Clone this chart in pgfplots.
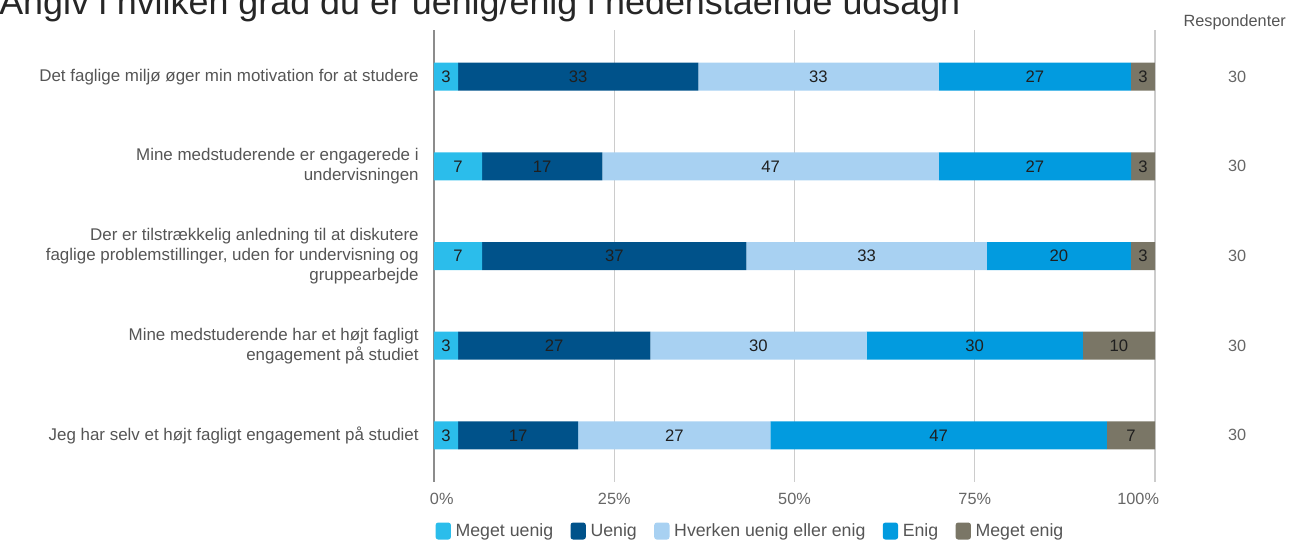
\documentclass[border=0pt]{standalone}
\usepackage{fontspec}
\setmainfont{Liberation Sans}
\usepackage{pgfplots}
\usepackage{pgfplotstable}
\pgfplotsset{compat=1.18}
\definecolor{cMU}{HTML}{2BBDEB}
\definecolor{cU}{HTML}{00528A}
\definecolor{cH}{HTML}{A8D1F2}
\definecolor{cE}{HTML}{029BDF}
\definecolor{cME}{HTML}{7A7666}
\definecolor{txtgray}{HTML}{555555}
\definecolor{ticgray}{HTML}{666666}
\definecolor{gridgray}{HTML}{CCCCCC}

\pgfplotstableread{
row mu u h e me
0 3.33 33.33 33.33 26.67 3.33
1 6.67 16.67 46.67 26.67 3.33
2 6.67 36.67 33.33 20.00 3.33
3 3.33 26.67 30.00 30.00 10.00
4 3.33 16.67 26.67 46.67 6.67
}\data

\pgfplotsset{
  seg/.style={draw=none, fill=#1},
  lbl/.style={
    nodes near coords={\pgfmathprintnumber[fixed,precision=0,assume math mode=true]{\pgfplotspointmeta}},
    point meta=explicit,
    every node near coord/.append style={anchor=center, font=\fontsize{12.5}{14}\selectfont, text=black!88},
  },
}

\begin{document}
\begin{tikzpicture}
\useasboundingbox (0pt,0pt) rectangle (967.5pt,-405pt);
\node[anchor=base west, inner sep=0, font=\fontsize{26.9}{27}\selectfont, text=black!85] at (-0.75pt,-10.5pt) {Angiv i hvilken grad du er uenig/enig i nedenstående udsagn};
\node[anchor=center, inner sep=0, font=\fontsize{12.2}{14}\selectfont, text=txtgray] at (926pt,-17pt) {Respondenter};
\begin{axis}[
  at={(325.5pt,-22.5pt)}, anchor=north west,
  scale only axis, width=540.75pt, height=339pt,
  xbar stacked, bar width=21pt,
  xmin=0, xmax=100, ymin=-0.52, ymax=4.52, y dir=reverse,
  clip=false,
  axis line style={draw=none},
  major tick length=0pt,
  xmajorgrids, grid style={gridgray, line width=0.8pt},
  xtick={0,25,50,75,100},
  xticklabels={\makebox[0pt][l]{\hspace{-3pt}0\%},25\%,50\%,75\%,\makebox[0pt][r]{100\%\hspace{-3pt}}},
  xticklabel style={text=ticgray, font=\fontsize{12.2}{14}\selectfont, yshift=-5pt},
  ytick={0,1,2,3,4},
  yticklabels={
    Det faglige miljø øger min motivation for at studere,
    {Mine medstuderende er engagerede i\\undervisningen},
    {Der er tilstrækkelig anledning til at diskutere\\faglige problemstillinger, uden for undervisning og\\gruppearbejde},
    {Mine medstuderende har et højt fagligt\\engagement på studiet},
    Jeg har selv et højt fagligt engagement på studiet},
  yticklabel style={align=right, text=txtgray, font=\fontsize{12.7}{15}\selectfont, xshift=-8pt},
  legend columns=-1,
  legend style={at={(0,0)}, anchor=north west, xshift=-2pt, yshift=-27pt, draw=none, fill=none,
    font=\fontsize{13.3}{14}\selectfont, text=txtgray,
    /tikz/every even column/.append style={column sep=11pt},
    /tikz/every odd column/.append style={column sep=1.5pt}},
  legend image code/.code={\fill[#1, rounded corners=2pt] (0pt,-6.4pt) rectangle (11.5pt,6.4pt);},
]
\addplot[seg=cMU, lbl] table[x=mu, y=row, meta=mu] {\data};
\addplot[seg=cU, lbl] table[x=u, y=row, meta=u] {\data};
\addplot[seg=cH, lbl] table[x=h, y=row, meta=h] {\data};
\addplot[seg=cE, lbl] table[x=e, y=row, meta=e] {\data};
\addplot[seg=cME, lbl] table[x=me, y=row, meta=me] {\data};
\legend{Meget uenig, Uenig, Hverken uenig eller enig, Enig, Meget enig}
\draw[black!45, line width=0.8pt] (axis cs:0,-0.52) -- (axis cs:0,4.52);
\pgfplotsinvokeforeach{0,1,2,3,4}{
  \node[font=\fontsize{12.2}{14}\selectfont, text=ticgray] at (axis cs:111.4,#1) {30};
}
\end{axis}
\end{tikzpicture}
\end{document}
